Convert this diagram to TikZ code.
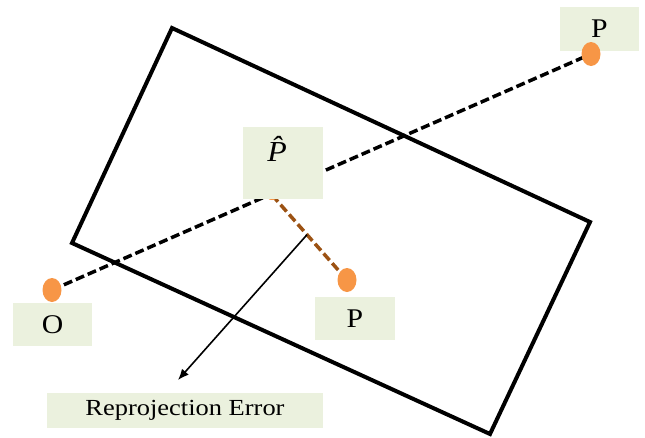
\documentclass[tikz,border=0pt]{standalone}
\usepackage{fontspec}
\setmainfont{Liberation Serif}
\usetikzlibrary{shapes.geometric,arrows.meta}
\definecolor{boxgreen}{HTML}{EBF1DE}
\definecolor{dotorange}{HTML}{F79646}
\definecolor{errbrown}{HTML}{9C5213}
\newcommand{\wtext}[1]{\scalebox{1.1}[1]{#1}}
\tikzset{
  lab/.style={fill=boxgreen, draw=none, inner sep=0pt, font=\fontsize{27}{31}\selectfont},
  dot/.style={ellipse, fill=dotorange, draw=none, minimum width=19pt, minimum height=24pt, inner sep=0pt},
  ray/.style={draw=black, line width=3.5pt, dash pattern=on 9pt off 4pt},
  errline/.style={draw=errbrown, line width=3.5pt, dash pattern=on 9pt off 4pt},
  frame/.style={draw=black, line width=4pt, line join=miter},
  pointer/.style={draw=black, line width=1.6pt, -{Latex[length=11pt,width=9pt]}}
}
\begin{document}
\begin{tikzpicture}[x=1pt,y=-1pt]
\useasboundingbox (0,0) rectangle (645,437);
% image plane
\coordinate (c1) at (172,28);
\coordinate (c2) at (590,222);
\coordinate (c3) at (490,434);
\coordinate (c4) at (72,243);
\draw[frame] (c1) -- (c2) -- (c3) -- (c4) -- cycle;
% points
\coordinate (oc) at (52,290);
\coordinate (pc) at (591,54);
\coordinate (ph) at (272,195);
\coordinate (p2c) at (347,280);
\draw[ray] (oc) -- (pc);
\draw[errline] (ph) -- (p2c);
\path (ph) -- (p2c) coordinate[pos=0.467] (mid);
\node[dot, minimum width=12pt, minimum height=10pt] (phdot) at (ph) {};
% labels
\node[lab, minimum width=80pt, minimum height=72pt] (phbox) at (283,163) {};
\node[font=\fontsize{29}{33}\selectfont, inner sep=0pt] (phtext) at (283,149) {\wtext{\textit{\^{P}}}};
\node[lab, minimum width=79pt, minimum height=43pt] (obox) at (52.5,324.5) {\wtext{O}};
\node[lab, minimum width=79pt, minimum height=44pt] (pbox) at (599.5,29) {\wtext{P}};
\node[lab, minimum width=80pt, minimum height=43pt] (p2box) at (355,318.5) {\wtext{P}};
\node[lab, font=\fontsize{23}{27}\selectfont, minimum width=276pt, minimum height=35pt] (errbox) at (185,410.5) {\scalebox{1.15}[1]{Reprojection Error}};
% dots
\node[dot] (odot) at (oc) {};
\node[dot] (pdot) at (pc) {};
\node[dot] (p2dot) at (p2c) {};
% pointer
\coordinate (tip) at (178,380);
\draw[pointer] (mid) -- (tip);
\end{tikzpicture}
\end{document}
